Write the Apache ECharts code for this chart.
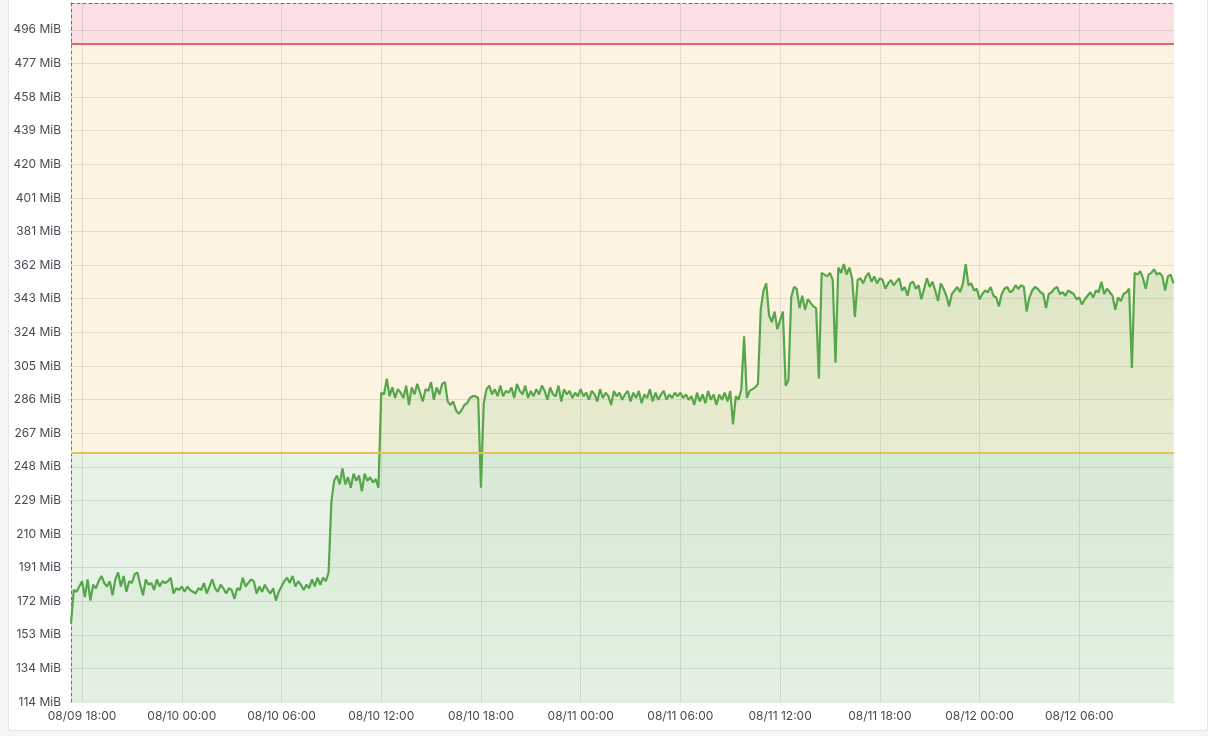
<!DOCTYPE html>
<html><head><meta charset="utf-8">
<script src="https://cdn.jsdelivr.net/npm/echarts@6/dist/echarts.min.js"></script>
<style>
html,body{margin:0;padding:0;width:1208px;height:736px;overflow:hidden;background:#f4f5f5;}
#panel{position:absolute;left:8px;top:-20px;width:1198px;height:749px;background:#fff;border:1px solid #e3e5e8;border-radius:2px;}
#chart{position:absolute;left:0;top:0;width:1208px;height:736px;}
</style></head><body>
<div id="panel"></div><div id="chart"></div>
<script>
// ---- data ----
const startTimeUTC = Date.UTC(2024, 7, 9, 17, 20);   // 08/09 17:20
const stepMinutes = 10;
const axisStartUTC = Date.UTC(2024, 7, 9, 17, 20);
const axisEndUTC = Date.UTC(2024, 7, 12, 11, 42);
const xTickTimesUTC = [
  Date.UTC(2024, 7, 9, 18), Date.UTC(2024, 7, 10, 0), Date.UTC(2024, 7, 10, 6),
  Date.UTC(2024, 7, 10, 12), Date.UTC(2024, 7, 10, 18), Date.UTC(2024, 7, 11, 0),
  Date.UTC(2024, 7, 11, 6), Date.UTC(2024, 7, 11, 12), Date.UTC(2024, 7, 11, 18),
  Date.UTC(2024, 7, 12, 0), Date.UTC(2024, 7, 12, 6)
];
const memoryMiB = [
159,178,177,180,183,174,184,172,181,179,183,186,182,180,183,175,184,188,180,186,
177,183,182,187,188,181,175,184,181,182,178,184,180,183,182,183,185,176,179,178,
180,177,180,178,177,176,179,178,182,176,180,184,179,177,181,179,176,179,178,173,
179,178,185,180,182,184,183,176,180,177,181,178,176,179,172,177,180,183,185,182,
186,180,183,181,178,181,179,184,180,185,181,185,183,188,228,240,243,238,247,238,
242,236,244,240,243,234,244,240,242,239,241,236,290,289,298,288,293,287,292,290,
287,294,283,293,289,295,290,285,292,291,296,286,293,289,295,296,285,283,285,280,
278,280,283,284,287,288,288,287,236,284,292,294,289,292,288,294,288,291,290,293,
287,295,291,289,294,287,291,288,292,289,294,291,286,293,289,288,294,285,292,289,
291,287,290,288,292,288,290,286,291,289,285,292,287,290,288,283,291,288,290,286,
289,291,285,290,287,291,284,289,287,292,285,290,286,289,291,286,289,287,290,288,
290,287,289,286,288,283,290,285,289,284,291,286,289,283,289,286,290,285,291,272,
288,286,292,322,287,291,292,293,295,337,348,352,334,330,336,326,331,336,294,297,
344,350,349,338,345,337,343,341,339,338,298,358,357,356,358,354,307,361,358,363,
357,361,355,333,354,355,352,356,358,353,356,352,355,354,349,352,354,351,353,355,
348,350,345,352,353,349,351,343,349,355,350,353,348,342,352,349,345,339,346,348,
350,347,352,363,351,352,348,349,343,346,348,347,350,345,344,339,346,349,350,347,
348,351,349,351,350,336,344,348,350,349,347,346,338,346,347,349,350,346,347,345,
348,347,346,343,344,340,343,345,347,344,348,347,353,346,349,347,345,337,344,342,
346,347,349,304,358,357,359,355,349,357,358,360,357,358,356,348,356,357,352
];
const yAxisMinBytes = 120000000;
const yAxisMaxBytes = 536000000;
const yAxisIntervalBytes = 20000000;
const thresholdWarnBytes = 268435456;   // 256 MiB
const thresholdCritBytes = 512000000;
const BYTES_PER_MIB = 1048576;

const seriesData = memoryMiB.map((v, i) => [startTimeUTC + i * stepMinutes * 60000, v * BYTES_PER_MIB]);

function pad(n){ return (n < 10 ? '0' : '') + n; }
function fmtTime(v){
  const d = new Date(v);
  return pad(d.getUTCMonth() + 1) + '/' + pad(d.getUTCDate()) + ' ' + pad(d.getUTCHours()) + ':' + pad(d.getUTCMinutes());
}

const textColor = '#464c54';
const gridColor = 'rgba(36,41,46,0.12)';
const fontFamily = 'Inter, Roboto, "DejaVu Sans", sans-serif';

const chart = echarts.init(document.getElementById('chart'), null, {renderer: 'canvas'});
chart.setOption({
  animation: false,
  backgroundColor: 'transparent',
  grid: {left: 71, right: 34, top: 3, bottom: 34, containLabel: false},
  xAxis: [{
    type: 'value',
    min: axisStartUTC,
    max: axisEndUTC,
    axisLine: {show: false},
    axisTick: {show: false, customValues: xTickTimesUTC},
    splitLine: {show: true, lineStyle: {color: gridColor, width: 1}},
    axisLabel: {
      color: textColor, fontSize: 12, fontFamily: fontFamily, margin: 8,
      hideOverlap: false,
      customValues: xTickTimesUTC,
      formatter: fmtTime
    }
  }, {
    type: 'value', position: 'top',
    min: axisStartUTC, max: axisEndUTC,
    axisLine: {show: true, lineStyle: {color: '#5f7284', type: [3, 3], width: 1}},
    axisTick: {show: false}, axisLabel: {show: false}, splitLine: {show: false}
  }],
  yAxis: {
    type: 'value',
    min: yAxisMinBytes,
    max: yAxisMaxBytes,
    interval: yAxisIntervalBytes,
    axisLine: {show: true, lineStyle: {color: '#5f7284', type: [3, 3], width: 1}},
    axisTick: {show: true, length: 3, lineStyle: {color: gridColor}},
    splitLine: {show: true, showMaxLine: false, lineStyle: {color: gridColor, width: 1}},
    axisLabel: {
      color: textColor, fontSize: 12, fontFamily: fontFamily, margin: 10,
      showMaxLabel: false,
      formatter: v => Math.round(v / BYTES_PER_MIB) + ' MiB'
    }
  },
  series: [{
    type: 'line',
    data: [],
    silent: true,
    z: 1,
    markArea: {
      silent: true,
      data: [
        [{yAxis: yAxisMinBytes, itemStyle: {color: 'rgba(86,166,75,0.14)'}}, {yAxis: thresholdWarnBytes}],
        [{yAxis: thresholdWarnBytes, itemStyle: {color: 'rgba(234,184,57,0.15)'}}, {yAxis: thresholdCritBytes}],
        [{yAxis: thresholdCritBytes, itemStyle: {color: 'rgba(224,47,68,0.15)'}}, {yAxis: yAxisMaxBytes}]
      ]
    },
    markLine: {
      silent: true,
      symbol: 'none',
      label: {show: false},
      data: [
        {yAxis: thresholdWarnBytes, lineStyle: {color: '#e5c159', width: 2, type: 'solid'}},
        {yAxis: thresholdCritBytes, lineStyle: {color: '#e6626f', width: 2, type: 'solid'}}
      ]
    }
  }, {
    type: 'line',
    data: seriesData,
    z: 3,
    showSymbol: false,
    symbol: 'none',
    sampling: false,
    smooth: false,
    lineStyle: {color: '#56a64b', width: 2.2},
    itemStyle: {color: '#56a64b'},
    areaStyle: {
      color: new echarts.graphic.LinearGradient(0, 0, 0, 1, [
        {offset: 0, color: 'rgba(86,166,75,0.26)'},
        {offset: 1, color: 'rgba(86,166,75,0.03)'}
      ])
    }
  }]
});
</script>
</body></html>
